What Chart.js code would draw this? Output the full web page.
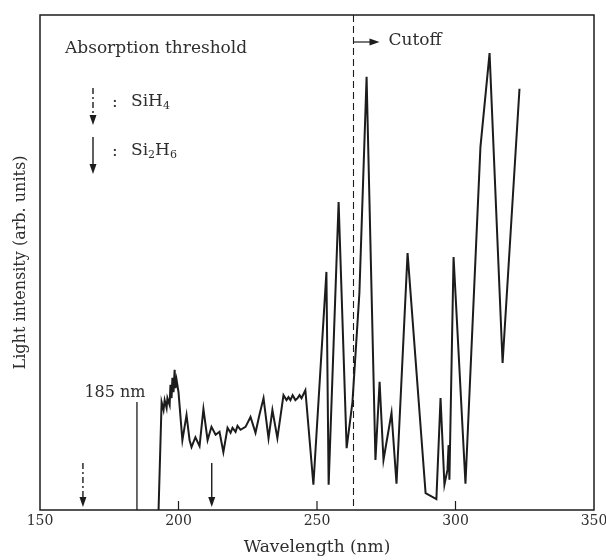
<!DOCTYPE html>
<html>
<head>
<meta charset="utf-8">
<script src="https://cdn.jsdelivr.net/npm/chart.js@4"></script>
<style>
  html, body { margin: 0; padding: 0; background: #ffffff; }
  canvas { display: block; }
</style>
</head>
<body>
<canvas id="spectrum" width="606" height="560"></canvas>
<script>
// Spectrum: wavelength (nm) and light intensity (arb. units, 0-100)
const wavelengths = [
  192.8, 193.9, 194.6, 195.0, 195.7, 196.0, 196.8, 197.1, 197.5, 197.8,
  198.2, 198.6, 198.9, 199.3, 200.0, 201.4, 202.9, 204.0, 204.7, 206.1,
  207.6, 209.0, 210.5, 211.9, 213.4, 214.8, 216.2, 217.7, 218.8, 219.5,
  220.6, 221.3, 222.4, 224.2, 226.0, 227.8, 229.2, 230.7, 232.5, 233.9,
  235.7, 237.9, 239.0, 239.7, 240.4, 241.2, 242.2, 243.0, 243.7, 244.4,
  245.8, 248.7, 253.4, 254.2, 257.8, 260.7, 262.8, 265.3, 267.9, 271.1,
  272.6, 274.0, 276.9, 278.7, 282.7, 289.2, 293.1, 294.6, 296.0, 297.1,
  297.5, 297.8, 299.3, 303.6, 309.0, 312.3, 317.0, 323.1
];
const intensity = [
  0.0, 21.8, 20.2, 22.2, 20.6, 22.6, 21.2, 25.3, 22.6, 26.7,
  23.8, 28.3, 24.6, 26.3, 23.8, 14.1, 19.2, 14.1, 12.7, 14.7,
  12.9, 20.4, 14.1, 16.8, 15.2, 15.8, 11.7, 16.6, 15.6, 16.6,
  15.8, 17.0, 16.2, 16.8, 18.8, 15.6, 19.2, 22.6, 14.5, 20.2,
  14.5, 23.2, 22.2, 22.8, 22.2, 23.2, 22.2, 22.6, 23.2, 22.6,
  24.2, 5.1, 48.1, 5.1, 62.2, 12.5, 21.8, 43.8, 87.5, 10.1,
  25.9, 10.1, 19.6, 5.3, 51.9, 3.4, 2.2, 22.6, 5.1, 8.1,
  13.1, 6.1, 51.1, 5.3, 73.3, 92.3, 29.7, 85.1
];

const xTicks = [150, 200, 250, 300, 350];
const xTickMarks = [200, 250, 300];
const cutoffNm = 263;
const mercuryLine = { nm: 185, top: 21.8, label: '185 nm' };
const thresholds = [
  { gas: 'SiH4', nm: 165.5, dashed: true },
  { gas: 'Si2H6', nm: 212, dashed: false }
];

const SERIF = "'DejaVu Serif', 'Liberation Serif', serif";
const INK = '#1c1c1c';
const TEXT = '#2e2e2e';

function arrowDown(ctx, x, y0, y1, dashed) {
  ctx.save();
  ctx.strokeStyle = INK;
  ctx.fillStyle = INK;
  ctx.lineWidth = 1.4;
  if (dashed) ctx.setLineDash([6, 3, 2, 3]);
  ctx.beginPath();
  ctx.moveTo(x, y0);
  ctx.lineTo(x, y1 - 8);
  ctx.stroke();
  ctx.setLineDash([]);
  ctx.beginPath();
  ctx.moveTo(x - 3.5, y1 - 10);
  ctx.lineTo(x + 3.5, y1 - 10);
  ctx.lineTo(x, y1);
  ctx.closePath();
  ctx.fill();
  ctx.restore();
}

// formula like Si2H6 with digits as subscripts
function formula(ctx, text, x, y) {
  let cx = x;
  for (const ch of text) {
    if (/\d/.test(ch)) {
      ctx.font = '11px ' + SERIF;
      ctx.fillText(ch, cx, y + 4);
    } else {
      ctx.font = '17px ' + SERIF;
      ctx.fillText(ch, cx, y);
    }
    cx += ctx.measureText(ch).width;
  }
}

const overlay = {
  id: 'overlay',
  afterDatasetsDraw(chart) {
    const { ctx, chartArea: a, scales: { x, y } } = chart;
    ctx.save();

    // frame
    ctx.strokeStyle = INK;
    ctx.lineWidth = 1.5;
    ctx.strokeRect(a.left, a.top, a.right - a.left, a.bottom - a.top);

    // inward tick marks
    ctx.lineWidth = 1.2;
    xTickMarks.forEach(v => {
      const px = x.getPixelForValue(v);
      ctx.beginPath();
      ctx.moveTo(px, a.bottom);
      ctx.lineTo(px, a.bottom - 9);
      ctx.stroke();
    });

    // cutoff
    const cx = Math.round(x.getPixelForValue(cutoffNm)) + 0.5;
    ctx.save();
    ctx.lineWidth = 1.1;
    ctx.setLineDash([7, 4]);
    ctx.beginPath();
    ctx.moveTo(cx, a.top);
    ctx.lineTo(cx, a.bottom);
    ctx.stroke();
    ctx.restore();
    ctx.fillStyle = INK;
    ctx.beginPath();
    ctx.moveTo(cx, a.top + 27);
    ctx.lineTo(cx + 17, a.top + 27);
    ctx.stroke();
    ctx.beginPath();
    ctx.moveTo(cx + 16, a.top + 23.5);
    ctx.lineTo(cx + 26, a.top + 27);
    ctx.lineTo(cx + 16, a.top + 30.5);
    ctx.closePath();
    ctx.fill();
    ctx.fillStyle = TEXT;
    ctx.font = '17px ' + SERIF;
    ctx.textBaseline = 'middle';
    ctx.textAlign = 'left';
    ctx.fillText('Cutoff', cx + 35, a.top + 26);

    // 185 nm line
    const mx = x.getPixelForValue(mercuryLine.nm);
    ctx.lineWidth = 1.3;
    ctx.beginPath();
    ctx.moveTo(mx, a.bottom);
    ctx.lineTo(mx, y.getPixelForValue(mercuryLine.top));
    ctx.stroke();
    ctx.font = '16px ' + SERIF;
    ctx.textAlign = 'center';
    ctx.fillText(mercuryLine.label, mx - 22, y.getPixelForValue(mercuryLine.top) - 9);

    // absorption thresholds on the axis
    thresholds.forEach(t => {
      const tx = x.getPixelForValue(t.nm);
      arrowDown(ctx, tx, a.bottom - 47, a.bottom - 3, t.dashed);
    });

    // key, top left
    ctx.textAlign = 'left';
    ctx.fillStyle = TEXT;
    ctx.font = '17px ' + SERIF;
    ctx.fillText('Absorption threshold', a.left + 25, a.top + 34);
    thresholds.forEach((t, i) => {
      const ky = a.top + 73 + i * 49;
      arrowDown(ctx, a.left + 53, ky, ky + 37, t.dashed);
      ctx.fillStyle = TEXT;
      ctx.font = '17px ' + SERIF;
      ctx.fillText(':', a.left + 72, ky + 15);
      formula(ctx, t.gas, a.left + 91, ky + 14);
    });

    ctx.restore();
  }
};

new Chart(document.getElementById('spectrum'), {
  type: 'line',
  data: {
    datasets: [{
      data: wavelengths.map((w, i) => ({ x: w, y: intensity[i] })),
      borderColor: INK,
      borderWidth: 2,
      pointRadius: 0,
      tension: 0,
      fill: false
    }]
  },
  options: {
    responsive: false,
    animation: false,
    layout: { padding: { top: 15, right: 12, left: 0, bottom: 0 } },
    plugins: { legend: { display: false }, tooltip: { enabled: false } },
    scales: {
      x: {
        type: 'linear',
        min: 150,
        max: 350,
        grid: { display: false, drawTicks: false },
        border: { display: false },
        afterBuildTicks: s => { s.ticks = xTicks.map(v => ({ value: v })); },
        ticks: { font: { family: SERIF, size: 14 }, color: TEXT, padding: 3, maxRotation: 0 },
        title: { display: true, text: 'Wavelength (nm)', font: { family: SERIF, size: 17 }, color: TEXT, padding: { top: 0, bottom: 2 } },
        afterFit: s => { s.height = 50; s.paddingLeft = 0; s.paddingRight = 0; }
      },
      y: {
        min: 0,
        max: 100,
        grid: { display: false, drawTicks: false },
        border: { display: false },
        ticks: { display: false },
        title: { display: true, text: 'Light intensity (arb. units)', font: { family: SERIF, size: 16 }, color: TEXT, padding: { top: 11, bottom: 0 } },
        afterFit: s => { s.width = 40; }
      }
    }
  },
  plugins: [overlay]
});
</script>
</body>
</html>
